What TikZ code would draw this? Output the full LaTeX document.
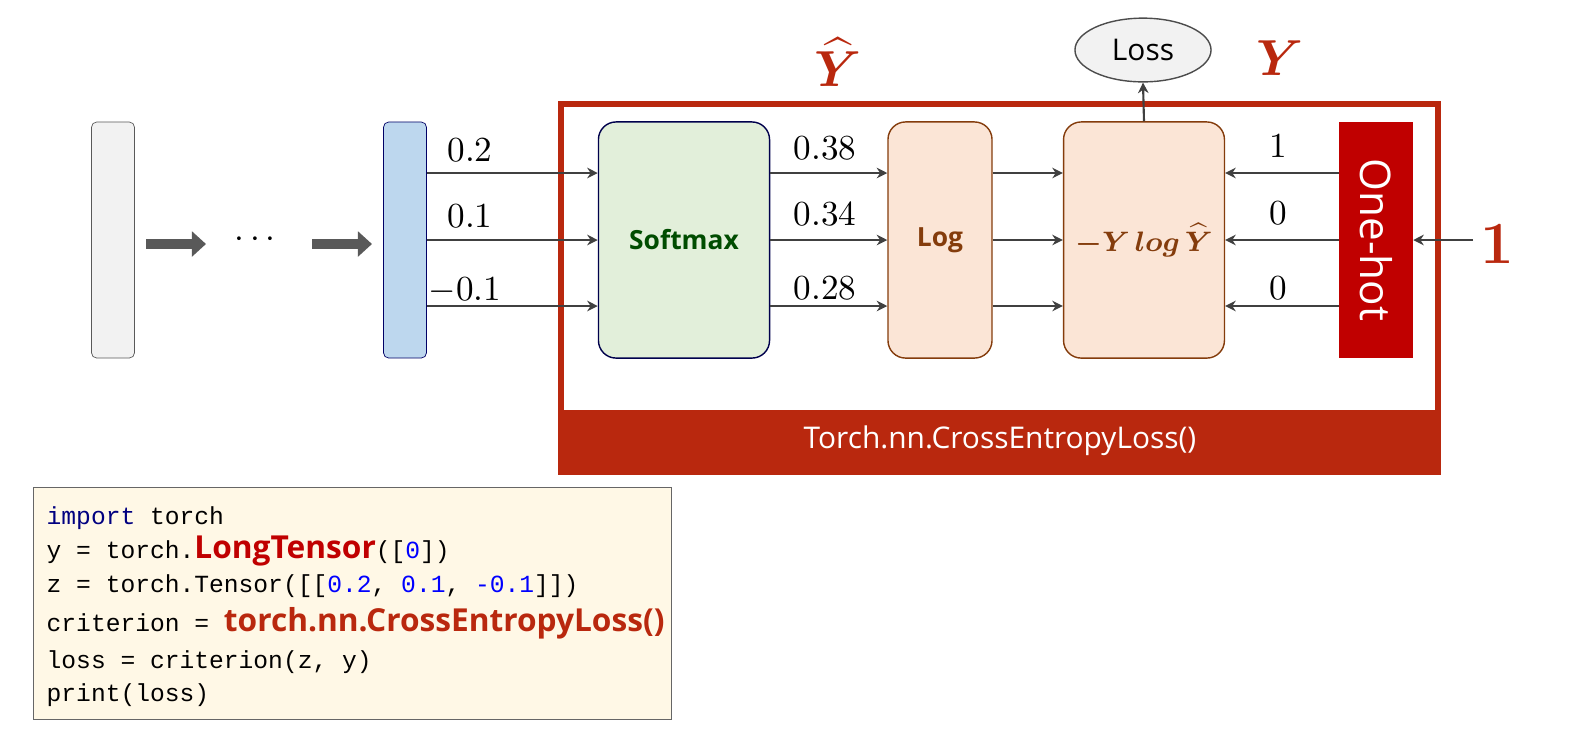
\documentclass[tikz,border=0pt]{standalone}
\usepackage{amsmath,amssymb}
\usepackage{bm}
\usepackage{fontspec}
\setsansfont{Open Sans}
\setmonofont{Liberation Mono}
\usetikzlibrary{shapes.geometric,arrows.meta}
\definecolor{framered}{RGB}{185,40,14}
\definecolor{hotred}{RGB}{192,0,0}
\definecolor{barblue}{RGB}{189,215,238}
\definecolor{softgreen}{RGB}{226,239,218}
\definecolor{peach}{RGB}{251,229,214}
\definecolor{brownline}{RGB}{132,60,12}
\definecolor{codebg}{RGB}{255,248,230}
\definecolor{kwblue}{RGB}{0,0,128}
\definecolor{numblue}{RGB}{0,0,255}
\begin{document}
\begin{tikzpicture}[
            x=0.01cm, y=-0.01cm,
            bar/.style={
                rectangle,
                rounded corners=1.5pt,
                minimum width=0.43cm,
                minimum height=2.36cm,
                draw=gray!70!black,
                very thin
            },
            block/.style={
                rectangle,
                rounded corners=5pt,
                minimum height=2.36cm,
                thin,
                font=\sffamily\bfseries\fontsize{7.5}{9}\selectfont
            },
            val/.style={
                font=\fontsize{10}{12}\selectfont
            },
            arrow/.style={
                semithick,
                draw=black!75,
                -{Stealth[length=3pt,width=3pt]}
            },
            fat/.style={
                line width=3pt,
                draw=black!65,
                -{Triangle[length=4pt,width=7pt]}
            },
            code/.style={
                anchor=west,
                font=\ttfamily\fontsize{7}{8}\selectfont,
                inner sep=0pt
            }
        ]
            \useasboundingbox (0,0) rectangle (1584,738);
            % Define nodes
            \node[bar, fill=gray!10] (first) at (113,240) {};
            \node (dots) at (258,240) {$\cdots$};
            \node[bar, fill=barblue, draw=blue!40!black] (last) at (405,240) {};

            \draw[framered, line width=1.5pt] (561,104) rectangle (1438,472);
            \fill[framered] (561,410) rectangle (1438,472);
            \node[text=white, font=\sffamily\fontsize{8.5}{10}\selectfont] (lossname) at (1000,441) {Torch.nn.CrossEntropyLoss()};

            \node[block, minimum width=1.71cm, fill=softgreen, draw=blue!30!black, text=green!30!black] (softmax) at (684,240) {Softmax};
            \node[block, minimum width=1.04cm, fill=peach, draw=brownline, text=brownline] (log) at (940,240) {Log};
            \node[block, minimum width=1.52cm, fill=peach, draw=brownline, text=brownline, font=\fontsize{8}{10}\selectfont] (ylog) at (1144,240) {$\bm{-Y\,log\,\widehat{Y}}$};
            \node[rectangle, minimum width=0.73cm, minimum height=2.36cm, fill=hotred] (onehot) at (1376,240) {};
            \node[rotate=-90, text=white, font=\sffamily\fontsize{12}{14}\selectfont] (hottext) at (1376,240) {One-hot};
            \node[ellipse, minimum width=1.36cm, minimum height=0.52cm, fill=gray!10, draw=black!70, thin, font=\sffamily\fontsize{8.5}{10}\selectfont] (loss) at (1143,50) {Loss};

            \node[text=framered, font=\fontsize{14}{16}\selectfont] (yhat) at (838,62) {$\bm{\widehat{Y}}$};
            \node[text=framered, font=\fontsize{14}{16}\selectfont] (ytrue) at (1280,58) {$\bm{Y}$};
            \node[text=framered, font=\bfseries\fontsize{17}{20}\selectfont] (label) at (1497,244) {1};
            \coordinate (labelend) at (1473,240);

            % Values
            \node[val] at (470,150) {0.2};
            \node[val] at (470,216) {0.1};
            \node[val] at (465,290) {$-$0.1};
            \node[val] at (825,148) {0.38};
            \node[val] at (825,214) {0.34};
            \node[val] at (825,288) {0.28};
            \node[val] at (1278,146) {1};
            \node[val] at (1278,213) {0};
            \node[val] at (1278,288) {0};

            % Draw edges
            \draw[fat] (146,244) -- (206,244);
            \draw[fat] (312,244) -- (372,244);
            \foreach \dy in {-67,0,66} {
                \draw[arrow] ([yshift=-\dy*0.01cm]last.east) -- ([yshift=-\dy*0.01cm]softmax.west);
                \draw[arrow] ([yshift=-\dy*0.01cm]softmax.east) -- ([yshift=-\dy*0.01cm]log.west);
                \draw[arrow] ([yshift=-\dy*0.01cm]log.east) -- ([yshift=-\dy*0.01cm]ylog.west);
                \draw[arrow] ([yshift=-\dy*0.01cm]onehot.west) -- ([yshift=-\dy*0.01cm]ylog.east);
            }
            \draw[arrow] (ylog.north) -- (loss.south);
            \draw[arrow] (labelend) -- (onehot.east);

            % Code
            \draw[fill=codebg, draw=black!60, very thin] (33,487) rectangle (671,719);
            \node[code] (c1) at (46,518) {\textcolor{kwblue}{import} torch};
            \node[code] (c2) at (46,551) {y = torch.\textcolor{hotred}{\sffamily\bfseries\fontsize{9}{10}\selectfont LongTensor}([\textcolor{numblue}{0}])};
            \node[code] (c3) at (46,586) {z = torch.Tensor([[\textcolor{numblue}{0.2}, \textcolor{numblue}{0.1}, \textcolor{numblue}{-0.1}]])};
            \node[code] (c4) at (46,623) {criterion = \textcolor{framered}{\sffamily\bfseries\fontsize{9}{10}\selectfont torch.nn.CrossEntropyLoss()}};
            \node[code] (c5) at (46,662) {loss = criterion(z, y)};
            \node[code] (c6) at (46,695) {print(loss)};
        \end{tikzpicture}
\end{document}
